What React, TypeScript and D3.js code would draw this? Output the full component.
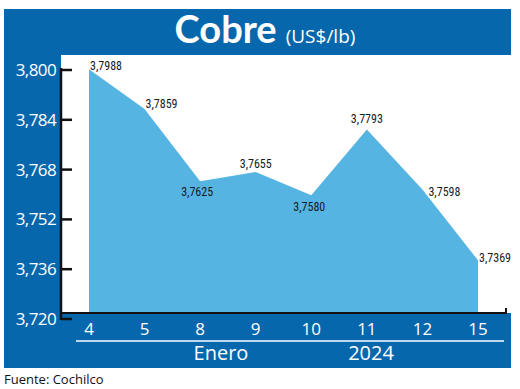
import * as d3 from 'd3';

// Datos: cobre, US$/lb, enero 2024
const days = ['4', '5', '8', '9', '10', '11', '12', '15'];
const prices = [3.7988, 3.7859, 3.7625, 3.7655, 3.758, 3.7793, 3.7598, 3.7369];
const priceLabels = ['3,7988', '3,7859', '3,7625', '3,7655', '3,7580', '3,7793', '3,7598', '3,7369'];
const yTicks = [3.72, 3.736, 3.752, 3.768, 3.784, 3.8];
const yTickLabels = ['3,720', '3,736', '3,752', '3,768', '3,784', '3,800'];
const footerLabels = ['Enero', '2024'];

// where each value label sits relative to its point: [dx, dy, anchor]
const labelPlacement: [number, number, string][] = [
    [1, 1, 'start'],
    [1, -1, 'start'],
    [-3, 15, 'middle'],
    [0, -4, 'middle'],
    [-2, 16, 'middle'],
    [0, -6, 'middle'],
    [6, 6, 'start'],
    [1, 2, 'start'],
];

const W = 520;
const H = 389;
const frame = { left: 4, top: 9, right: 511, bottom: 368 };
const plot = { left: 61, top: 55, bottom: 313 };

const BLUE = '#0767ad';
const AREA = '#56b4e3';

export default function App() {
    const x = d3.scalePoint<string>().domain(days).range([89, 478]);
    // values are drawn on this scale
    const y = d3.scaleLinear().domain([3.72, 3.8]).range([312.5, 65.5]);
    // the printed axis sits a few px lower than the data
    const yAxis = d3.scaleLinear().domain([3.72, 3.8]).range([319, 70]);

    const pts = prices.map((v, i) => ({ day: days[i], v, label: priceLabels[i] }));

    const area = d3
        .area<{ day: string; v: number }>()
        .x((d) => x(d.day) || 0)
        .y0(plot.bottom)
        .y1((d) => y(d.v));

    const labelFont = '"Liberation Sans Narrow", "Roboto Condensed", "DejaVu Sans Condensed", sans-serif';
    const axisFont = '"Open Sans", "Noto Sans", sans-serif';

    return (
        <svg
            width={W}
            height={H}
            style={{ position: 'absolute', left: 0, top: 0, background: '#fff' }}
        >
            <rect
                x={frame.left}
                y={frame.top}
                width={frame.right - frame.left}
                height={frame.bottom - frame.top}
                fill={BLUE}
            />
            <rect
                x={plot.left}
                y={plot.top}
                width={frame.right - plot.left}
                height={plot.bottom - plot.top}
                fill="#fff"
            />

            {/* title */}
            <text x={265} y={43} textAnchor="middle" fill="#fff">
                <tspan fontFamily="Lato, 'Open Sans', sans-serif" fontWeight={700} fontSize={38}>
                    Cobre
                </tspan>
                <tspan fontFamily={axisFont} fontSize={19} dx={9}>
                    (US$/lb)
                </tspan>
            </text>

            <path d={area(pts) || ''} fill={AREA} />

            {/* axes */}
            <line x1={plot.left} x2={plot.left} y1={68} y2={320} stroke="#111" strokeWidth={2.5} />
            <line x1={plot.left} x2={506} y1={plot.bottom} y2={plot.bottom} stroke="#111" strokeWidth={2} />
            <line x1={506} x2={506} y1={308} y2={314} stroke="#111" strokeWidth={2} />
            {yTicks.map((t, i) => (
                <g key={t}>
                    <line
                        x1={plot.left}
                        x2={plot.left + 11}
                        y1={yAxis(t)}
                        y2={yAxis(t)}
                        stroke="#111"
                        strokeWidth={2.5}
                    />
                    <text
                        x={56}
                        y={yAxis(t) + 6}
                        textAnchor="end"
                        fill="#fff"
                        fontFamily={axisFont}
                        fontSize={17}
                        letterSpacing={-0.6}
                    >
                        {yTickLabels[i]}
                    </text>
                </g>
            ))}
            {days.map((d) => (
                <text
                    key={d}
                    x={x(d)}
                    y={335}
                    textAnchor="middle"
                    fill="#fff"
                    fontFamily={axisFont}
                    fontSize={17}
                >
                    {d}
                </text>
            ))}
            <line x1={76} x2={504} y1={341} y2={341} stroke="#fff" strokeWidth={1.5} />
            <text x={221} y={360} textAnchor="middle" fill="#fff" fontFamily={axisFont} fontSize={20}>
                {footerLabels[0]}
            </text>
            <text x={371} y={360} textAnchor="middle" fill="#fff" fontFamily={axisFont} fontSize={20}>
                {footerLabels[1]}
            </text>

            {/* value labels */}
            {pts.map((p, i) => {
                const [dx, dy, anchor] = labelPlacement[i];
                return (
                    <text
                        key={p.day}
                        x={(x(p.day) || 0) + dx}
                        y={y(p.v) + dy}
                        textAnchor={anchor}
                        fill="#1a1a24"
                        fontFamily={labelFont}
                        fontSize={12}
                    >
                        {p.label}
                    </text>
                );
            })}

            <text x={4} y={384} fill="#111" fontFamily={axisFont} fontSize={13}>
                Fuente: Cochilco
            </text>
        </svg>
    );
}
